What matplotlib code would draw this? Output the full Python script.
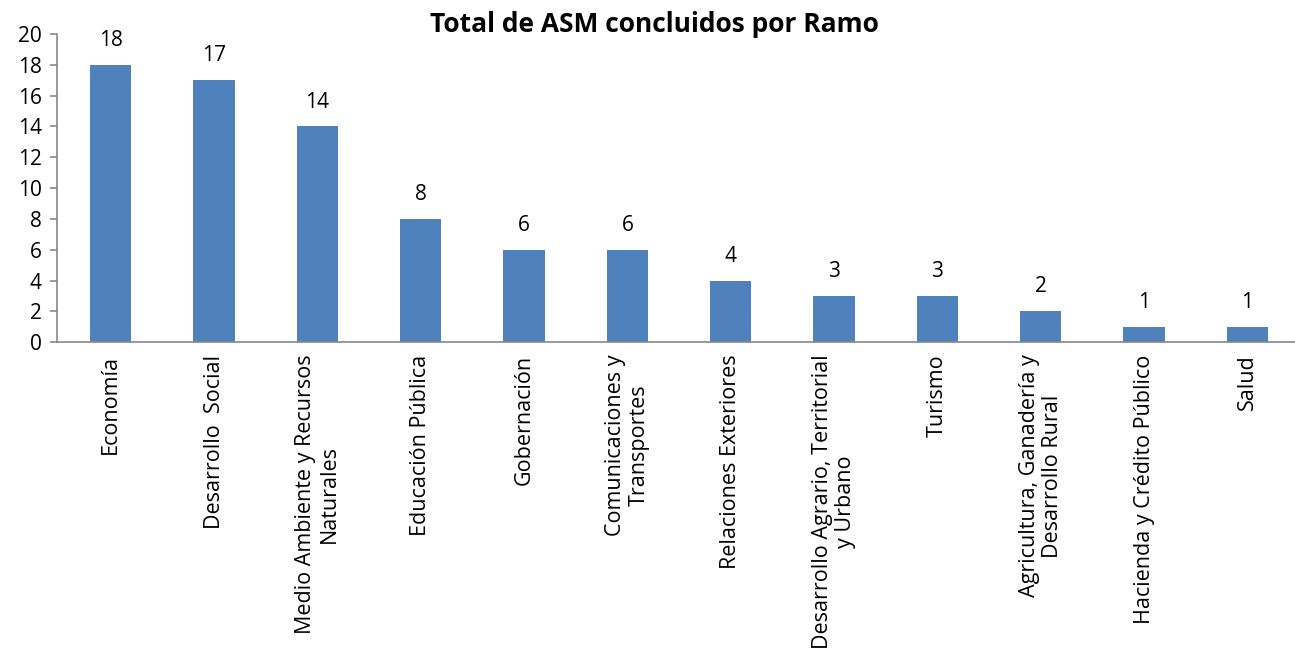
import matplotlib
matplotlib.use("Agg")
import matplotlib.pyplot as plt

categories = ["Economía", "Desarrollo  Social", "Medio Ambiente y Recursos\nNaturales",
              "Educación Pública", "Gobernación", "Comunicaciones y\nTransportes",
              "Relaciones Exteriores", "Desarrollo Agrario, Territorial\ny Urbano",
              "Turismo", "Agricultura, Ganadería y\nDesarrollo Rural",
              "Hacienda y Crédito Público", "Salud"]
values = [18, 17, 14, 8, 6, 6, 4, 3, 3, 2, 1, 1]
yticks = list(range(0, 21, 2))
title = "Total de ASM concluidos por Ramo"

plt.rcParams['font.family'] = ['Open Sans', 'DejaVu Sans']

fig = plt.figure(figsize=(12.95, 6.48), dpi=100)
ax = fig.add_axes([0.044, 0.472, 0.956, 0.4755])
x = list(range(len(categories)))
bars = ax.bar(x, values, width=0.4, color="#4F81BD")
ax.bar_label(bars, labels=[str(v) for v in values], padding=10, fontsize=15)

ax.set_ylim(0, 20)
ax.set_xlim(-0.52, 11.46)
ax.set_yticks(yticks)
ax.set_xticks(x)
ax.set_xticklabels(categories, rotation=90, fontsize=15.5, ha='center', va='top',
                   multialignment='center', linespacing=1.15)
ax.tick_params(axis='y', labelsize=15, length=5, color='#888888', width=1.2, pad=6)
ax.tick_params(axis='x', length=0, pad=9)
for s in ['top', 'right']:
    ax.spines[s].set_visible(False)
for s in ['left', 'bottom']:
    ax.spines[s].set_color('#888888')
    ax.spines[s].set_linewidth(1.2)

fig.text(0.505, 0.962, title, ha='center', va='center', fontsize=19, fontweight='bold')

fig.savefig("out.png", dpi=100)
